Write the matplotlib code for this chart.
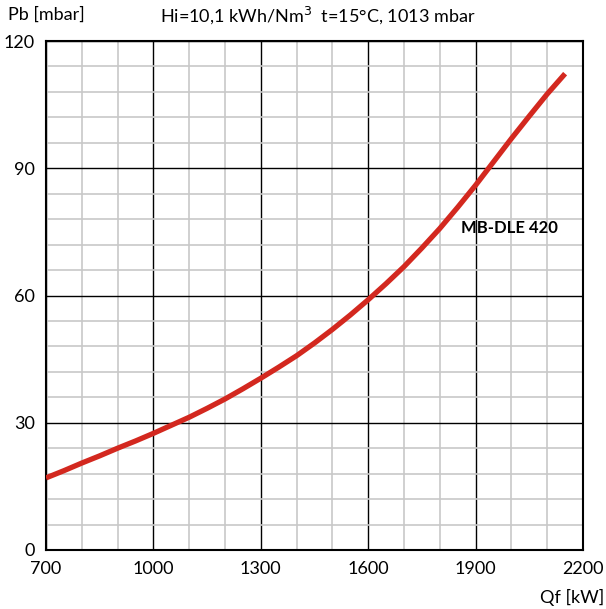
import matplotlib
matplotlib.use("Agg")
import matplotlib.pyplot as plt
import numpy as np

# curve
qf_kw = [700, 750, 800, 850, 900, 950, 1000, 1050, 1100, 1150, 1200, 1250,
         1300, 1350, 1400, 1450, 1500, 1550, 1600, 1650, 1700, 1750, 1800,
         1850, 1900, 1950, 2000, 2050, 2100, 2150]
pb_mbar = [17.0, 18.7, 20.5, 22.2, 24.0, 25.7, 27.5, 29.4, 31.3, 33.4, 35.6, 38.0,
           40.5, 43.1, 45.8, 48.8, 52.0, 55.4, 59.0, 62.8, 66.8, 71.2, 75.8,
           80.8, 86.0, 91.5, 97.0, 102.3, 107.5, 112.3]

x_ticks = [700, 1000, 1300, 1600, 1900, 2200]
y_ticks = [0, 30, 60, 90, 120]
x_minor = np.arange(700, 2201, 100)
y_minor = np.arange(0, 121, 6)

plt.rcParams["font.family"] = ["Lato", "DejaVu Sans"]

fig = plt.figure(figsize=(6.06, 6.09), dpi=100)
W, H = 606, 609
ax = fig.add_axes([46 / W, 1 - 550 / H, (583 - 46) / W, (550 - 41) / H])

ax.set_xlim(700, 2200)
ax.set_ylim(0, 120)
ax.set_xticks(x_ticks)
ax.set_yticks(y_ticks)
ax.set_xticks(x_minor, minor=True)
ax.set_yticks(y_minor, minor=True)
ax.grid(True, which="minor", color="#c8c8c8", linewidth=1.2)
ax.grid(True, which="major", color="black", linewidth=1.0)
ax.set_axisbelow(True)
ax.tick_params(which="both", length=0, labelsize=13, pad=8)
for s in ax.spines.values():
    s.set_linewidth(1.5)
    s.set_color("black")

ax.plot(qf_kw, pb_mbar, color="#d3281f", linewidth=3.8, solid_capstyle="butt",
        solid_joinstyle="round", zorder=3)
ax.text(1859, 76, "MB-DLE 420", fontsize=12, fontweight="bold", va="center", ha="left")

fig.text(8 / W, 1 - 15 / H, "Pb [mbar]", fontsize=13, va="center", ha="left")
fig.text(160 / W, 1 - 15 / H, "Hi=10,1 kWh/Nm$^3$  t=15°C, 1013 mbar",
         fontsize=13, va="center", ha="left")
fig.text(604 / W, 1 - 597 / H, "Qf [kW]", fontsize=13, va="center", ha="right")

fig.savefig("out.png", dpi=100)
